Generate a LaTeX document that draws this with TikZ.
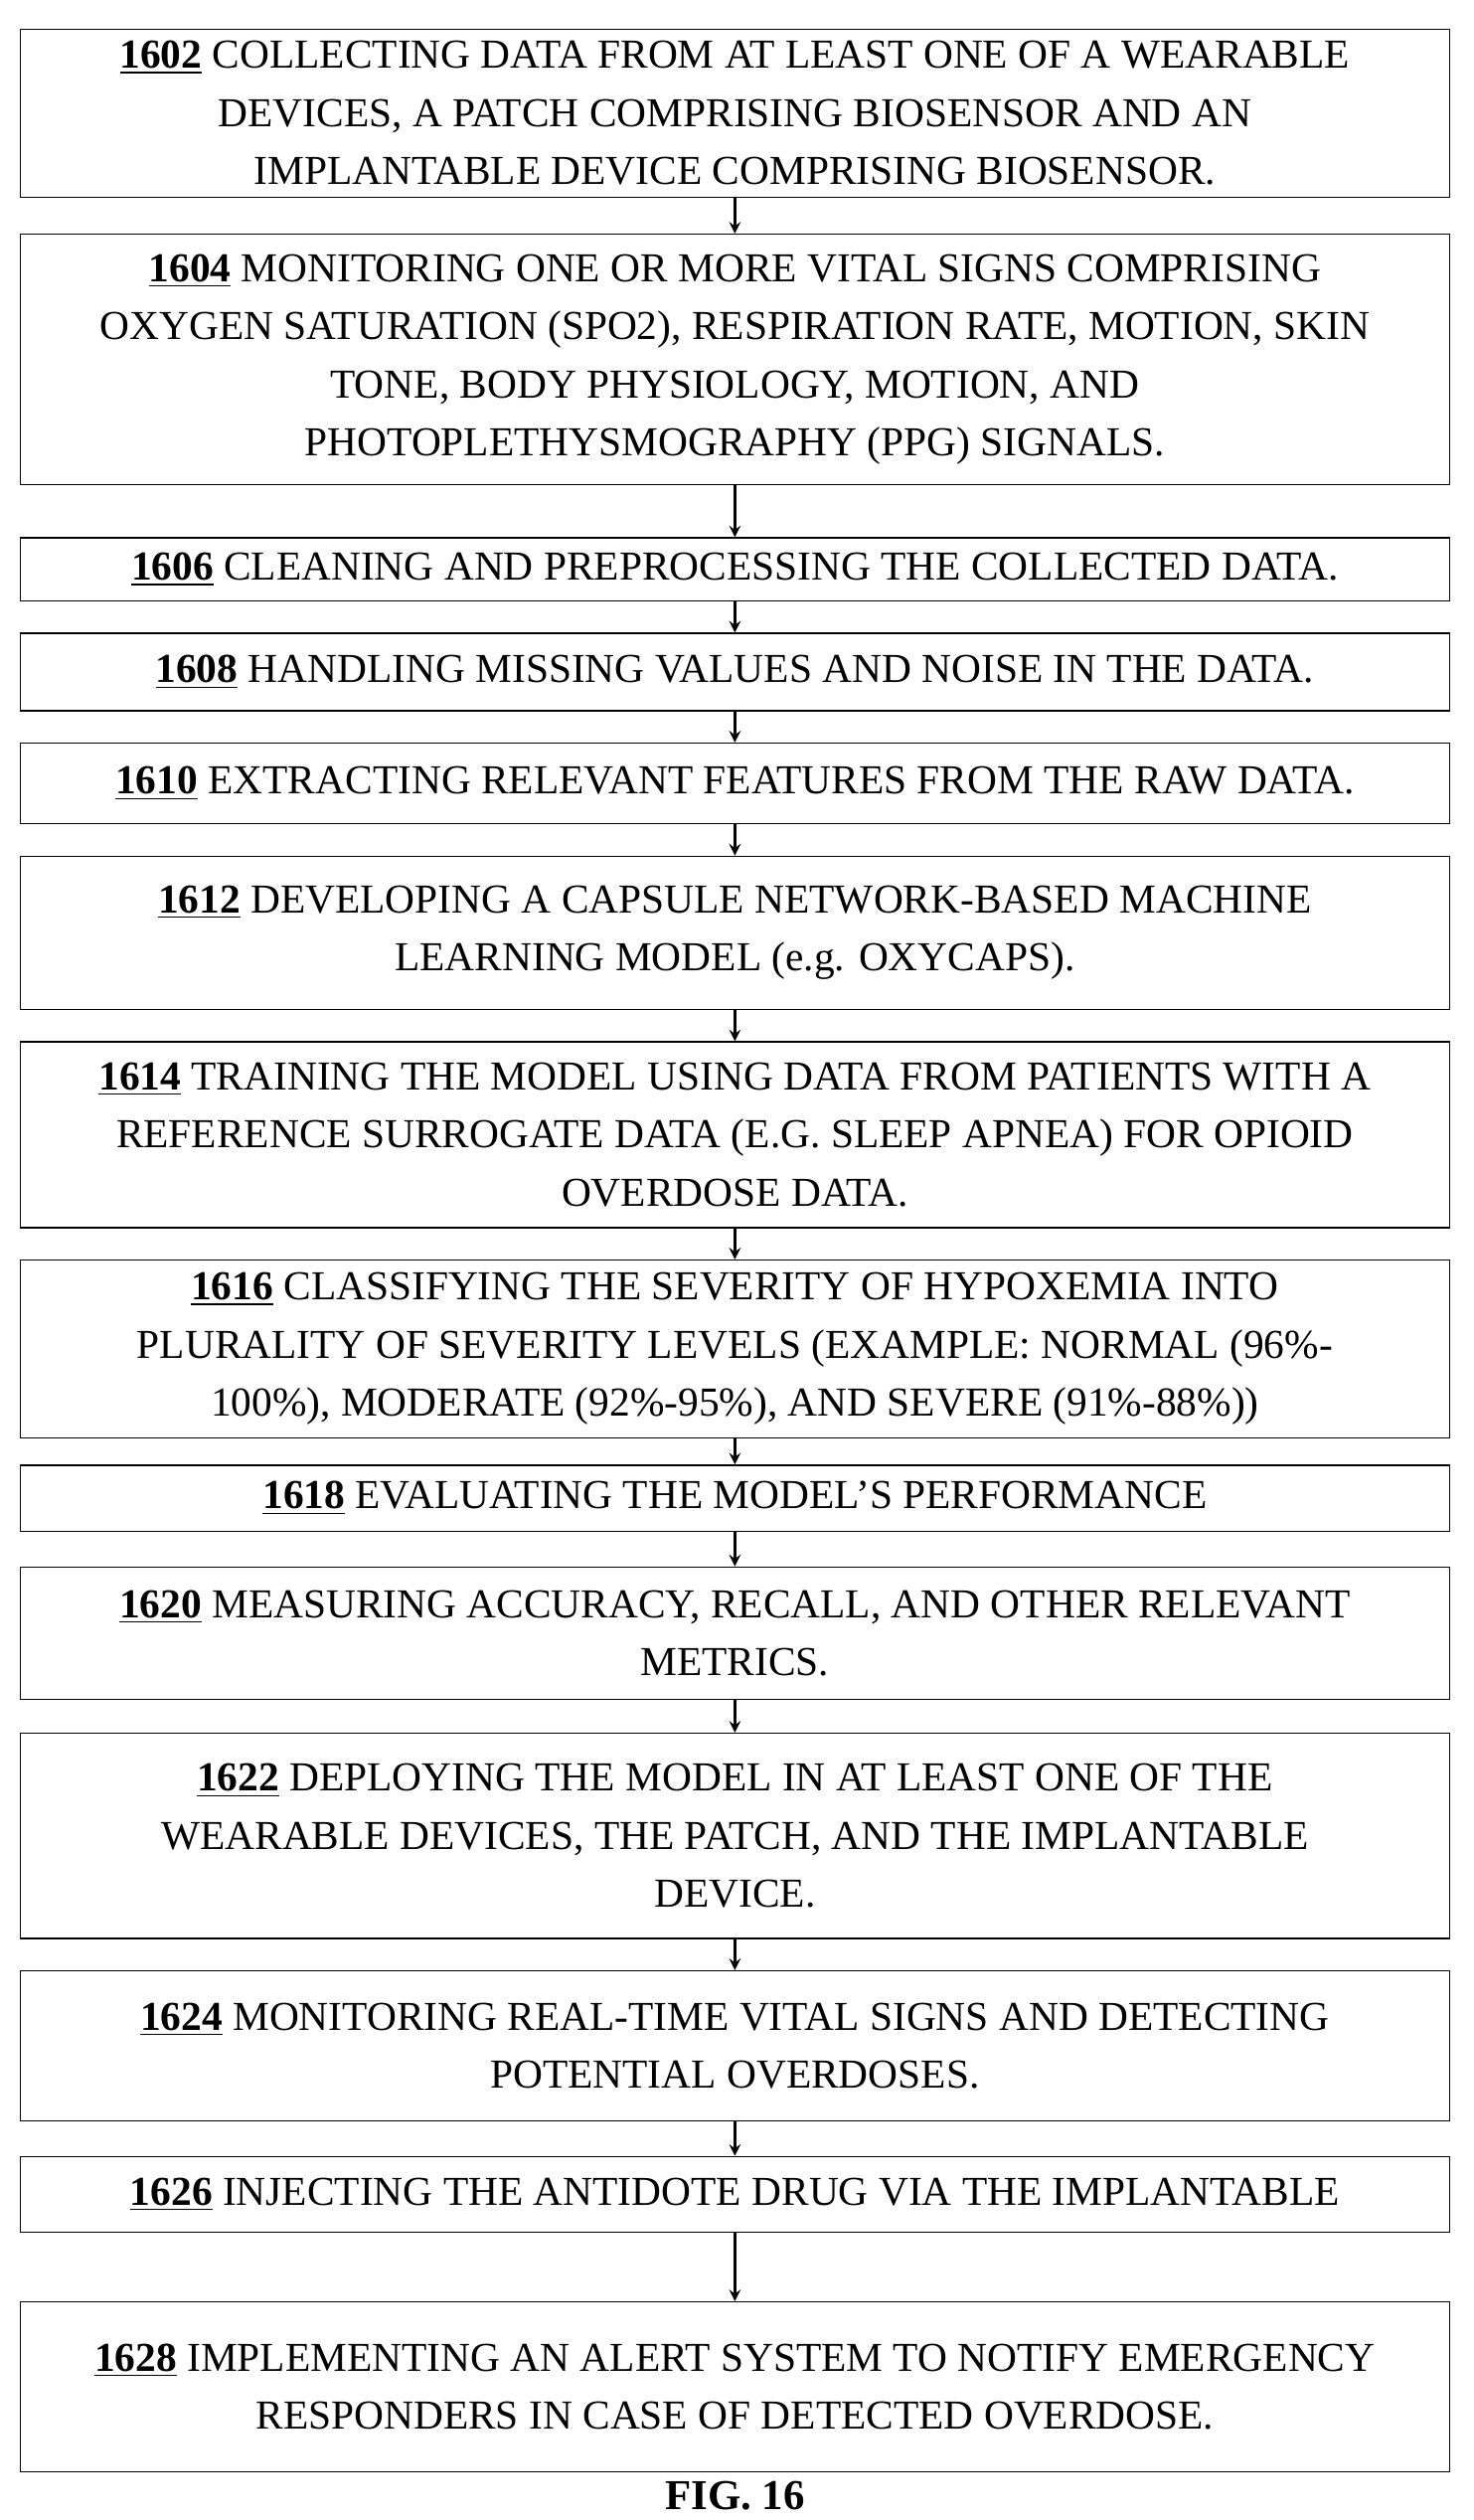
\documentclass[tikz,border=0pt]{standalone}
\usepackage{fontspec}
\setmainfont{Liberation Serif}
\usetikzlibrary{arrows, positioning, calc}
\newcommand{\stepno}[1]{\underline{\textbf{#1}}}

\begin{document}
\begin{tikzpicture}[
  stepbox/.style={draw, line width=0.5pt, minimum width=17.7cm, align=center,
    inner xsep=1pt, font=\fontsize{14.5}{20.5}\selectfont},
  flow/.style={->, >=stealth, line width=0.8pt}]
\useasboundingbox (0,0) rectangle (18.24,-31.2);

% Steps
\node[stepbox, minimum height=2.08cm] (s1602) at (9.1,-1.4) {\stepno{1602} COLLECTING DATA FROM AT LEAST ONE OF A WEARABLE\\ DEVICES, A PATCH COMPRISING BIOSENSOR AND AN\\ IMPLANTABLE DEVICE COMPRISING BIOSENSOR.};
\node[stepbox, minimum height=3.1cm] (s1604) at (9.1,-4.45) {\stepno{1604} MONITORING ONE OR MORE VITAL SIGNS COMPRISING\\ OXYGEN SATURATION (SPO2), RESPIRATION RATE, MOTION, SKIN\\ TONE, BODY PHYSIOLOGY, MOTION, AND\\ PHOTOPLETHYSMOGRAPHY (PPG) SIGNALS.};
\node[stepbox, minimum height=0.78cm] (s1606) at (9.1,-7.05) {\stepno{1606} CLEANING AND PREPROCESSING THE COLLECTED DATA.};
\node[stepbox, minimum height=0.96cm] (s1608) at (9.1,-8.32) {\stepno{1608} HANDLING MISSING VALUES AND NOISE IN THE DATA.};
\node[stepbox, minimum height=1.0cm] (s1610) at (9.1,-9.7) {\stepno{1610} EXTRACTING RELEVANT FEATURES FROM THE RAW DATA.};
\node[stepbox, minimum height=1.9cm] (s1612) at (9.1,-11.55) {\stepno{1612} DEVELOPING A CAPSULE NETWORK-BASED MACHINE\\ LEARNING MODEL (e.g. OXYCAPS).};
\node[stepbox, minimum height=2.3cm] (s1614) at (9.1,-14.05) {\stepno{1614} TRAINING THE MODEL USING DATA FROM PATIENTS WITH A\\ REFERENCE SURROGATE DATA (E.G. SLEEP APNEA) FOR OPIOID\\ OVERDOSE DATA.};
\node[stepbox, minimum height=2.2cm] (s1616) at (9.1,-16.7) {\stepno{1616} CLASSIFYING THE SEVERITY OF HYPOXEMIA INTO\\ PLURALITY OF SEVERITY LEVELS (EXAMPLE: NORMAL (96\%-\\ 100\%), MODERATE (92\%-95\%), AND SEVERE (91\%-88\%))};
\node[stepbox, minimum height=0.82cm] (s1618) at (9.1,-18.55) {\stepno{1618} EVALUATING THE MODEL'S PERFORMANCE};
\node[stepbox, minimum height=1.64cm] (s1620) at (9.1,-20.22) {\stepno{1620} MEASURING ACCURACY, RECALL, AND OTHER RELEVANT\\ METRICS.};
\node[stepbox, minimum height=2.54cm] (s1622) at (9.1,-22.73) {\stepno{1622} DEPLOYING THE MODEL IN AT LEAST ONE OF THE\\ WEARABLE DEVICES, THE PATCH, AND THE IMPLANTABLE\\ DEVICE.};
\node[stepbox, minimum height=1.86cm] (s1624) at (9.1,-25.33) {\stepno{1624} MONITORING REAL-TIME VITAL SIGNS AND DETECTING\\ POTENTIAL OVERDOSES.};
\node[stepbox, minimum height=0.94cm] (s1626) at (9.1,-27.17) {\stepno{1626} INJECTING THE ANTIDOTE DRUG VIA THE IMPLANTABLE};
\node[stepbox, minimum height=2.1cm] (s1628) at (9.1,-29.55) {\stepno{1628} IMPLEMENTING AN ALERT SYSTEM TO NOTIFY EMERGENCY\\ RESPONDERS IN CASE OF DETECTED OVERDOSE.};

% Caption
\node[font=\fontsize{15}{18}\selectfont\bfseries] (fig) at (9.1,-30.9) {FIG. 16};

% Arrows
\foreach \a/\b in {1602/1604,1604/1606,1606/1608,1608/1610,1610/1612,1612/1614,1614/1616,1616/1618,1618/1620,1620/1622,1622/1624,1624/1626,1626/1628}
  \draw[flow] (s\a.south) -- (s\b.north);
\end{tikzpicture}
\end{document}
